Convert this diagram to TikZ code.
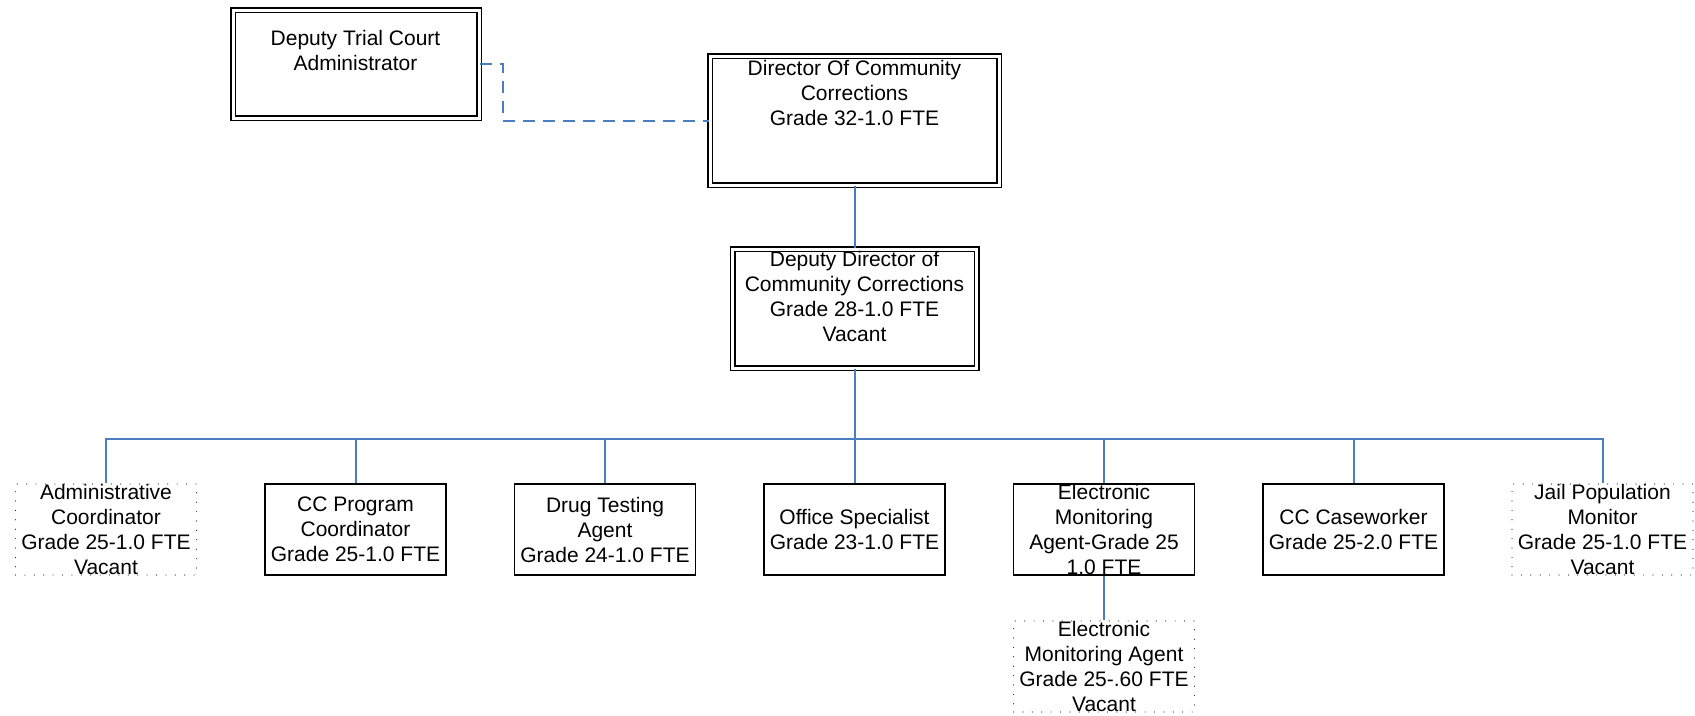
\documentclass[tikz,border=0pt]{standalone}
\usepackage{fontspec}
\setmainfont{Liberation Sans}
\definecolor{linkblue}{RGB}{74,126,193}
\tikzset{
  txt/.style={font=\fontsize{21}{25}\selectfont, align=center, inner sep=0pt},
  dbox/.style={draw=black, line width=1.5pt, double, double distance=3pt, inner sep=0pt},
  sbox/.style={draw=black, line width=1.6pt, inner sep=0pt, minimum width=181pt, minimum height=91pt},
  vbox/.style={draw=black!85, line width=1.2pt, dash pattern=on 0pt off 9.4pt, line cap=round, inner sep=0pt, minimum width=181pt, minimum height=91pt},
  link/.style={draw=linkblue, line width=2pt},
  dlink/.style={link, dash pattern=on 12pt off 8pt}
}
\begin{document}
\begin{tikzpicture}[x=1pt,y=-1pt]
\useasboundingbox (0,0) rectangle (1695,715);
% top boxes
\node[dbox, minimum width=246pt, minimum height=108pt] (dtc) at (356,64) {};
\node[txt, anchor=north] (dtc-t) at (355.5,30) {Deputy Trial Court\\Administrator};
\node[dbox, minimum width=289pt, minimum height=129pt] (dir) at (854.5,120.5) {};
\node[txt, anchor=north] (dir-t) at (854.5,60) {Director Of Community\\Corrections\\Grade 32-1.0 FTE};
\node[dbox, minimum width=244pt, minimum height=119pt] (ddir) at (854.5,308.5) {};
\node[txt, anchor=north] (ddir-t) at (854.5,251) {Deputy Director of\\Community Corrections\\Grade 28-1.0 FTE\\Vacant};
% bottom row
\node[vbox] (admin) at (106,529.5) {};
\node[txt] (admin-t) at (admin.center) {Administrative\\Coordinator\\Grade 25-1.0 FTE\\Vacant};
\node[sbox] (ccp) at (355.5,529.5) {};
\node[txt] (ccp-t) at (ccp.center) {CC Program\\Coordinator\\Grade 25-1.0 FTE};
\node[sbox] (drug) at (605,529.5) {};
\node[txt] (drug-t) at (drug.center) {Drug Testing\\Agent\\Grade 24-1.0 FTE};
\node[sbox] (office) at (854.5,529.5) {};
\node[txt] (office-t) at (office.center) {Office Specialist\\Grade 23-1.0 FTE};
\node[sbox] (em) at (1104,529.5) {};
\node[txt] (em-t) at (em.center) {Electronic\\Monitoring\\Agent-Grade 25\\1.0 FTE};
\node[sbox] (cw) at (1353.5,529.5) {};
\node[txt] (cw-t) at (cw.center) {CC Caseworker\\Grade 25-2.0 FTE};
\node[vbox] (jail) at (1602.5,529.5) {};
\node[txt] (jail-t) at (jail.center) {Jail Population\\Monitor\\Grade 25-1.0 FTE\\Vacant};
\node[vbox] (emv) at (1104,666.5) {};
\node[txt] (emv-t) at (emv.center) {Electronic\\Monitoring Agent\\Grade 25-.60 FTE\\Vacant};
% connectors
\coordinate (dbend) at (503,64);
\draw[dlink] (dtc.east) -- (dbend) |- (dir.west);
\draw[link] (dir.south) -- (ddir.north);
\coordinate (bus) at (854.5,439);
\draw[link] (ddir.south) -- (bus);
\foreach \c in {admin,ccp,drug,office,em,cw,jail}{
  \draw[link] (bus) -| (\c.north);
}
\draw[link] (em.south) -- (emv.north);
\end{tikzpicture}
\end{document}
